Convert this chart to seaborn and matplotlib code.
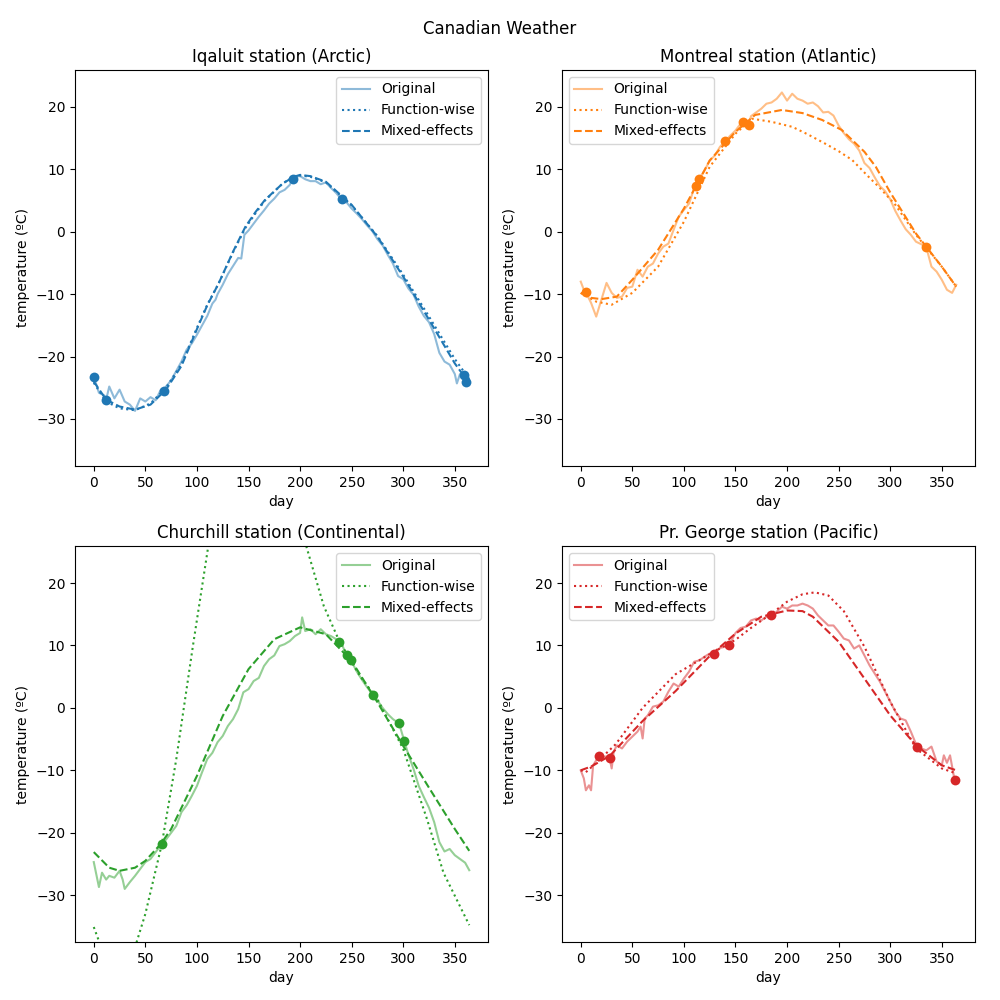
import matplotlib
matplotlib.use("Agg")
import matplotlib.pyplot as plt
import seaborn as sns

# === Iqaluit (Arctic) ===
iq_days = [0, 5, 10, 12, 15, 20, 25, 30, 35, 40, 45, 50, 55, 60, 65, 68, 70, 75, 80, 85,
           90, 95, 100, 105, 110, 115, 118, 120, 125, 130, 135, 140, 143, 146, 150, 155, 160,
           165, 170, 175, 180, 185, 190, 193, 195, 200, 205, 210, 215, 220, 225, 230, 235,
           240, 245, 250, 255, 260, 265, 270, 275, 280, 285, 290, 295, 300, 305, 310, 315,
           320, 325, 330, 335, 340, 345, 350, 352, 355, 359, 361, 364]
iq_temp = [-23.2, -25.8, -26.2, -26.9, -24.8, -26.7, -25.3, -27.2, -27.7, -28.7, -26.7, -27.2,
           -26.5, -27.0, -25.3, -25.5, -24.8, -23.8, -22.3, -20.8, -18.9, -17.9, -16.5, -15.0,
           -13.5, -11.5, -10.9, -10.0, -8.5, -6.8, -5.5, -4.2, -4.3, -0.5, 0.2, 1.3, 2.4, 3.4,
           4.5, 5.3, 6.3, 6.7, 7.5, 8.5, 8.8, 8.9, 8.4, 8.1, 8.1, 7.6, 7.9, 7.0, 6.2, 5.2, 4.7,
           3.7, 2.9, 2.0, 1.0, 0.1, -1.2, -2.2, -3.7, -5.1, -7.1, -7.6, -9.1, -10.1, -12.0,
           -13.5, -14.5, -16.4, -19.4, -20.8, -21.3, -22.8, -24.3, -22.8, -22.9, -24.1, -24.3]
iq_fit_days = [0, 12, 25, 40, 55, 70, 85, 100, 110, 121, 135, 147, 157, 166, 183, 194, 200,
               210, 225, 250, 275, 300, 325, 350, 364]
iq_mixed = [-24.0, -26.9, -28.0, -28.5, -27.7, -25.3, -21.5, -15.6, -11.8, -8.3, -3.2, 0.8,
            3.2, 5.1, 7.7, 8.8, 9.1, 8.9, 8.0, 4.3, -0.8, -7.2, -14.1, -21.1, -24.3]
iq_func = [-24.2, -27.2, -28.3, -28.6, -27.5, -25.0, -21.2, -15.4, -11.7, -8.3, -3.3, 0.6,
           3.0, 5.0, 7.7, 8.9, 9.0, 8.8, 7.9, 4.2, -0.7, -6.9, -13.6, -20.4, -23.6]
iq_obs_days = [0, 12, 68, 193, 241, 359, 361]
iq_obs_temp = [-23.2, -26.9, -25.5, 8.5, 5.2, -22.9, -24.1]

# === Montreal (Atlantic) ===
mt_days = [0, 3, 5, 10, 15, 20, 25, 30, 35, 40, 45, 50, 55, 60, 65, 70, 75, 80, 85, 90, 95,
           100, 105, 110, 112, 115, 120, 125, 130, 135, 140, 145, 150, 155, 157, 160, 163,
           165, 170, 175, 180, 185, 190, 195, 200, 205, 210, 215, 220, 225, 230, 235, 240,
           245, 250, 255, 260, 265, 270, 275, 280, 285, 290, 295, 300, 305, 310, 315, 320,
           325, 330, 335, 340, 345, 350, 355, 360, 364]
mt_temp = [-8.0, -9.3, -9.7, -11.4, -13.6, -10.9, -8.2, -9.8, -10.6, -10.4, -9.0, -8.8, -6.1,
           -7.2, -5.6, -5.1, -3.5, -2.4, -1.9, 0.3, 2.4, 3.5, 4.5, 7.0, 7.4, 8.5, 9.8, 11.4,
           12.2, 13.6, 14.5, 15.4, 16.2, 17.3, 17.6, 17.4, 17.1, 18.5, 19.1, 19.7, 20.5, 20.7,
           21.3, 22.3, 21.0, 22.1, 21.3, 21.0, 20.5, 20.7, 20.1, 19.1, 19.2, 18.6, 17.0, 15.8,
           14.8, 14.1, 13.0, 11.0, 10.2, 8.7, 7.3, 6.5, 5.2, 3.3, 1.8, 0.4, -0.5, -1.6, -2.0,
           -2.5, -5.6, -6.4, -7.7, -9.3, -9.8, -8.5]
mt_mixed_days = [0, 10, 20, 35, 50, 75, 100, 125, 150, 169, 195, 215, 234, 253, 275, 286,
                 300, 325, 350, 364]
mt_mixed = [-9.8, -10.6, -10.8, -10.4, -7.7, -2.9, 3.7, 11.4, 16.0, 18.7, 19.5, 19.0, 17.9,
            16.3, 12.8, 10.4, 6.3, -0.3, -5.6, -8.8]
mt_func_days = [0, 15, 30, 50, 75, 100, 125, 150, 166, 185, 205, 220, 237, 250, 263, 279,
                290, 305, 325, 350, 364]
mt_func = [-9.8, -11.2, -11.7, -9.8, -5.6, 1.6, 10.4, 15.7, 18.1, 17.6, 16.8, 15.6, 14.1,
           12.9, 11.5, 8.8, 7.0, 4.3, -0.5, -5.6, -8.8]
mt_obs_days = [5, 112, 115, 140, 157, 163, 335]
mt_obs_temp = [-9.7, 7.4, 8.5, 14.5, 17.6, 17.1, -2.5]

# === Churchill (Continental) ===
ch_days = [0, 5, 8, 12, 15, 20, 25, 28, 30, 35, 40, 45, 50, 55, 60, 66, 70, 75, 80, 85, 90,
           95, 100, 105, 110, 115, 120, 125, 130, 135, 140, 145, 150, 155, 160, 165, 170, 175,
           180, 185, 190, 195, 200, 202, 205, 210, 215, 220, 225, 230, 235, 238, 240, 245,
           249, 255, 260, 265, 271, 275, 280, 285, 290, 296, 301, 305, 310, 315, 320, 325,
           330, 335, 340, 345, 350, 355, 360, 364]
ch_temp = [-24.7, -28.7, -26.4, -27.5, -26.9, -27.2, -26.1, -27.5, -29.0, -27.9, -26.9, -25.8,
           -24.7, -24.2, -23.1, -21.8, -21.1, -20.0, -18.9, -16.7, -15.6, -14.1, -12.5, -10.3,
           -8.2, -7.2, -5.5, -4.5, -2.9, -1.8, -0.2, 2.5, 3.0, 4.3, 4.8, 6.7, 7.8, 8.4, 9.9,
           10.2, 10.7, 11.5, 12.0, 14.5, 12.3, 12.6, 11.8, 12.6, 11.8, 11.5, 11.0, 10.6, 10.4,
           8.4, 7.7, 5.8, 4.5, 3.3, 2.0, 1.2, 0.0, -1.0, -1.8, -2.5, -5.3, -7.5, -9.8, -12.5,
           -14.3, -16.0, -18.3, -21.5, -23.0, -22.6, -23.6, -24.2, -24.8, -26.0]
ch_mixed_days = [0, 15, 25, 40, 50, 65, 75, 100, 125, 150, 175, 200, 225, 250, 275, 300,
                 325, 350, 364]
ch_mixed = [-23.1, -25.6, -26.1, -25.6, -24.5, -21.8, -19.4, -10.9, -1.3, 6.2, 11.0, 12.9,
            11.8, 7.5, 0.9, -6.1, -12.8, -19.4, -22.9]
ch_func_days = [0, 6, 22, 41, 50, 66, 80, 96, 111, 125, 140, 160, 180, 195, 206, 223, 238,
                258, 275, 300, 323, 339, 364]
ch_func = [-35.1, -37.8, -44.0, -37.8, -33.0, -21.8, -8.2, 9.8, 25.9, 37.0, 45.0, 49.0, 44.0,
           35.0, 25.9, 16.3, 10.7, 5.1, 1.4, -6.6, -17.8, -26.4, -34.8]
ch_obs_days = [66, 238, 245, 249, 271, 296, 301]
ch_obs_temp = [-21.8, 10.6, 8.4, 7.7, 2.0, -2.5, -5.3]

# === Pr. George (Pacific) ===
pg_days = [0, 3, 5, 8, 10, 12, 15, 18, 20, 25, 28, 30, 32, 35, 40, 45, 50, 55, 58, 60, 62,
           65, 70, 75, 80, 85, 90, 95, 100, 105, 110, 115, 120, 125, 129, 135, 140, 144, 150,
           155, 160, 165, 170, 175, 180, 184, 190, 195, 200, 205, 210, 215, 220, 225, 230,
           235, 240, 245, 250, 255, 260, 265, 270, 275, 280, 285, 290, 295, 300, 305, 310,
           315, 320, 326, 330, 335, 340, 345, 350, 352, 355, 358, 362, 364]
pg_temp = [-10.0, -11.3, -13.2, -12.4, -13.2, -9.2, -8.4, -7.7, -7.8, -7.8, -8.1, -9.7, -7.0,
           -6.0, -6.5, -5.4, -4.6, -3.8, -3.0, -4.9, -1.7, -1.2, 0.2, 0.4, 1.0, 2.6, 3.9, 3.4,
           4.7, 5.8, 7.4, 7.6, 8.2, 8.7, 8.7, 9.6, 9.8, 10.1, 12.0, 12.8, 13.0, 14.0, 14.3,
           14.0, 14.6, 14.8, 15.4, 16.2, 15.9, 16.4, 16.4, 16.7, 16.4, 15.9, 14.8, 14.0, 13.2,
           13.2, 12.2, 11.1, 10.8, 9.5, 10.0, 8.4, 6.8, 5.5, 4.2, 2.6, 1.0, -0.6, -1.7, -2.0,
           -3.8, -6.2, -6.5, -6.8, -6.2, -8.6, -9.2, -7.6, -8.8, -7.6, -11.2, -11.6]
pg_mixed_days = [0, 10, 28, 60, 92, 125, 150, 175, 200, 215, 225, 250, 275, 300, 325, 350,
                 364]
pg_mixed = [-10.0, -9.4, -7.7, -2.1, 2.7, 8.3, 11.9, 14.6, 15.6, 15.5, 14.6, 10.6, 4.7, -1.2,
            -6.0, -9.2, -10.0]
pg_func_days = [0, 5, 15, 34, 60, 92, 125, 150, 165, 184, 200, 215, 227, 240, 255, 275, 300,
                325, 350, 364]
pg_func = [-10.0, -10.3, -8.8, -5.8, 0.0, 5.4, 8.6, 10.9, 12.8, 15.0, 17.0, 18.2, 18.5, 18.0,
           15.5, 9.8, 1.0, -6.5, -9.7, -10.5]
pg_obs_days = [18, 28, 129, 144, 184, 326, 363]
pg_obs_temp = [-7.7, -8.1, 8.7, 10.1, 14.8, -6.2, -11.5]

titles = ["Iqaluit station (Arctic)", "Montreal station (Atlantic)",
          "Churchill station (Continental)", "Pr. George station (Pacific)"]

stations = [
    (iq_days, iq_temp, iq_fit_days, iq_func, iq_fit_days, iq_mixed, iq_obs_days, iq_obs_temp),
    (mt_days, mt_temp, mt_func_days, mt_func, mt_mixed_days, mt_mixed, mt_obs_days, mt_obs_temp),
    (ch_days, ch_temp, ch_func_days, ch_func, ch_mixed_days, ch_mixed, ch_obs_days, ch_obs_temp),
    (pg_days, pg_temp, pg_func_days, pg_func, pg_mixed_days, pg_mixed, pg_obs_days, pg_obs_temp),
]

colores = sns.color_palette("tab10")[:4]
legend_locs = ["upper right", "upper left", "upper right", "upper left"]

fig, axes = plt.subplots(2, 2, figsize=(10, 10))
plt.subplots_adjust(left=0.075, right=0.975, top=0.93, bottom=0.058,
                    wspace=0.179, hspace=0.203)
fig.suptitle("Canadian Weather")

for ax, titulo, datos, color, loc in zip(axes.flat, titles, stations, colores, legend_locs):
    d, t, fd, ft, md, mtp, od, ot = datos
    sns.lineplot(x=d, y=t, ax=ax, color=color, alpha=0.5, label="Original")
    sns.lineplot(x=fd, y=ft, ax=ax, color=color, linestyle=":", label="Function-wise")
    sns.lineplot(x=md, y=mtp, ax=ax, color=color, linestyle="--", label="Mixed-effects")
    sns.scatterplot(x=od, y=ot, ax=ax, color=color, s=50, linewidth=0, zorder=3)
    ax.set_ylim(-37.5, 25.9)
    ax.set_title(titulo)
    ax.set_xlabel("day")
    ax.set_ylabel("temperature (ºC)")
    ax.legend(loc=loc)

plt.savefig("out.png", dpi=100)
plt.close()
